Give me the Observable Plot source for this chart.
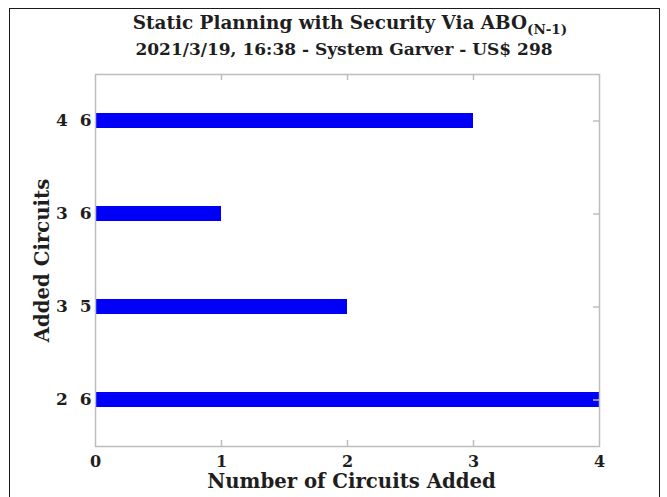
<!DOCTYPE html>
<html>
<head>
<meta charset="utf-8">
<script src="https://cdn.jsdelivr.net/npm/d3@7"></script>
<script src="https://cdn.jsdelivr.net/npm/@observablehq/plot@0.6"></script>
<style>
  html, body { margin: 0; padding: 0; background: #fff; overflow: hidden; }
  #wrap { position: relative; width: 667px; height: 497px; }
  #border { position: absolute; left: 9px; top: 8px; width: 651px; height: 520px; border: 1.5px solid #1a1a1a; box-sizing: border-box; pointer-events: none; }
  svg text { font-weight: bold; white-space: pre; }
</style>
</head>
<body>
<div id="wrap"><div id="border"></div></div>
<script>
// Data
const circuits = ["4  6", "3  6", "3  5", "2  6"];   // top to bottom
const added = [3, 1, 2, 4];
const xTicks = [0, 1, 2, 3, 4];
const innerTicks = [1, 2, 3];
const titleMain = "Static Planning with Security Via ABO";
const titleSub = "(N-1)";
const subtitle = "2021/3/19, 16:38 - System Garver - US$ 298";
const xLabel = "Number of Circuits Added";
const yLabel = "Added Circuits";

const rows = circuits.map((c, i) => ({circuit: c, n: added[i]}));
const font = "DejaVu Serif";
const gray = "#bdbdbd";
const ink = "#1e1e1e";

const plot = Plot.plot({
  width: 667,
  height: 497,
  marginLeft: 95,
  marginRight: 68,
  marginTop: 74,
  marginBottom: 51,
  style: {fontFamily: font, fontSize: "16px", color: ink, background: "transparent"},
  x: {domain: [0, 4], ticks: xTicks},
  y: {domain: circuits, padding: 0},
  marks: [
    Plot.barX(rows, {x: "n", y: "circuit", fill: "#0000f8", insetTop: 39, insetBottom: 39}),
    Plot.frame({stroke: gray, strokeWidth: 1.5}),
    Plot.ruleX(innerTicks, {stroke: gray, strokeWidth: 1.5, insetTop: 366}),
    Plot.ruleX(innerTicks, {stroke: gray, strokeWidth: 1.5, insetBottom: 366}),
    Plot.ruleY(circuits, {stroke: gray, strokeWidth: 1.5, insetLeft: 498}),
    Plot.axisX(xTicks, {anchor: "bottom", tickSize: 0, tickPadding: 9, label: null, fontSize: 16, tickFormat: d3.format("d")}),
    Plot.axisY({anchor: "left", tickSize: 0, tickPadding: 4, label: null, fontSize: 17}),
    Plot.text([xLabel], {frameAnchor: "bottom", dx: 4, dy: 41, lineAnchor: "bottom", fontSize: 19.7, fill: ink}),
    Plot.text([yLabel], {frameAnchor: "left", textAnchor: "middle", dx: -47, rotate: -90, lineAnchor: "bottom", fontSize: 19.7, fill: ink})
  ]
});
plot.style.position = "absolute";
plot.style.left = "0px";
plot.style.top = "0px";
document.getElementById("wrap").prepend(plot);

const svg = d3.select(plot);
const t1 = svg.append("text")
  .attr("x", 350).attr("y", 29)
  .attr("text-anchor", "middle")
  .attr("font-family", font).attr("font-size", 18.4).attr("fill", ink);
t1.append("tspan").text(titleMain);
t1.append("tspan").attr("font-size", 13.5).attr("dy", 5).text(titleSub);
svg.append("text")
  .attr("x", 344).attr("y", 55)
  .attr("text-anchor", "middle")
  .attr("font-family", font).attr("font-size", 17).attr("fill", ink)
  .text(subtitle);
</script>
</body>
</html>
